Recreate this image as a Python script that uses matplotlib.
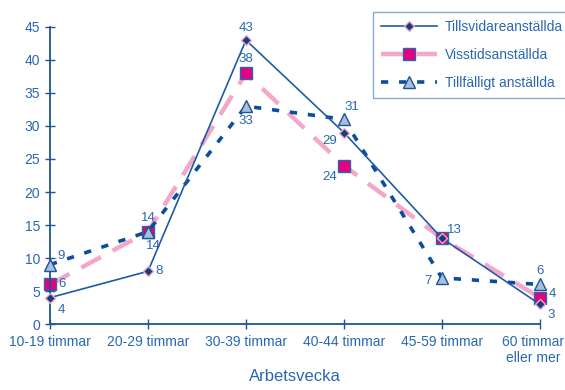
import matplotlib.pyplot as plt
from matplotlib.transforms import ScaledTranslation

plt.rcParams['font.family'] = ['Liberation Sans', 'DejaVu Sans']

categories = ['10-19 timmar', '20-29 timmar', '30-39 timmar', '40-44 timmar',
              '45-59 timmar', '60 timmar\neller mer']
tillsvidare = [4, 8, 43, 29, 13, 3]
visstids = [6, 14, 38, 24, 13, 4]
tillfalligt = [9, 14, 33, 31, 7, 6]

# label offsets in points (dx, dy) per point, None = no label
off_tv = [(8, -9), (8, 0), (0, 9), (-10, -6), None, (8, -8)]
off_vs = [(9, 0), (4, -10), (0, 10), (-10, -8), (9, 6), (9, 3)]
off_tf = [(8, 6), (0, 10), (0, -11), (6, 9), (-10, -2), (0, 10)]

txt_col = '#2a67b0'
axis_col = '#1d5494'

fig = plt.figure(figsize=(5.65, 3.9), dpi=100)
ax = fig.add_axes([0.0885, 0.169, 0.867, 0.762])
x = list(range(len(categories)))

ax.plot(x, visstids, color='#f4a7c9', lw=3.2, dashes=(5, 3), zorder=2,
        marker='s', ms=8, mfc='#e5007d', mec='#2a67b0', mew=1, clip_on=False,
        label='Visstidsanställda')
ax.plot(x, tillfalligt, color='#0a4e9b', lw=2.6, dashes=(2, 3), zorder=3,
        marker='^', ms=8, mfc='#a9bedb', mec='#1d5494', mew=1, clip_on=False,
        label='Tillfälligt anställda')
ax.plot(x, tillsvidare, color='#1f5ba3', lw=1.2, zorder=4,
        marker='D', ms=5, mfc='#163f7a', mec='#f2a6c8', mew=1, clip_on=False,
        label='Tillsvidareanställda')

for series, offs in [(tillsvidare, off_tv), (visstids, off_vs), (tillfalligt, off_tf)]:
    for xi, v, o in zip(x, series, offs):
        if o is None:
            continue
        ax.annotate(str(v), (xi, v), xytext=o, textcoords='offset points',
                    ha='center', va='center', fontsize=9.5, color=txt_col)

ax.set_xlim(0, 5)
ax.set_ylim(0, 45)
ax.set_yticks(range(0, 46, 5))
ax.set_xticks(x)
ax.set_xticklabels(categories)
ax.tick_params(axis='both', colors=axis_col, labelcolor=txt_col, labelsize=10,
               direction='inout', length=7, width=1)
ax.tick_params(axis='x', pad=4)
# last category label sits a bit left of its tick
last = ax.get_xticklabels()[-1]
last.set_transform(last.get_transform() + ScaledTranslation(-5 / 72, 0, fig.dpi_scale_trans))
for s in ['top', 'right']:
    ax.spines[s].set_visible(False)
for s in ['left', 'bottom']:
    ax.spines[s].set_color(axis_col)
    ax.spines[s].set_linewidth(1.3)

ax.set_xlabel('Arbetsvecka', color=txt_col, fontsize=12, labelpad=3)

handles, labels = ax.get_legend_handles_labels()
order = [2, 0, 1]
leg = fig.legend([handles[i] for i in order], [labels[i] for i in order],
                 loc='upper left', bbox_to_anchor=(0.66, 0.97), fontsize=10,
                 frameon=True, fancybox=False, handlelength=4.0, handletextpad=0.6,
                 labelspacing=1.0, borderpad=0.6, borderaxespad=0,
                 labelcolor=txt_col)
leg.get_frame().set_edgecolor('#6b93c6')
leg.get_frame().set_linewidth(1)

fig.savefig('out.png', dpi=100)
